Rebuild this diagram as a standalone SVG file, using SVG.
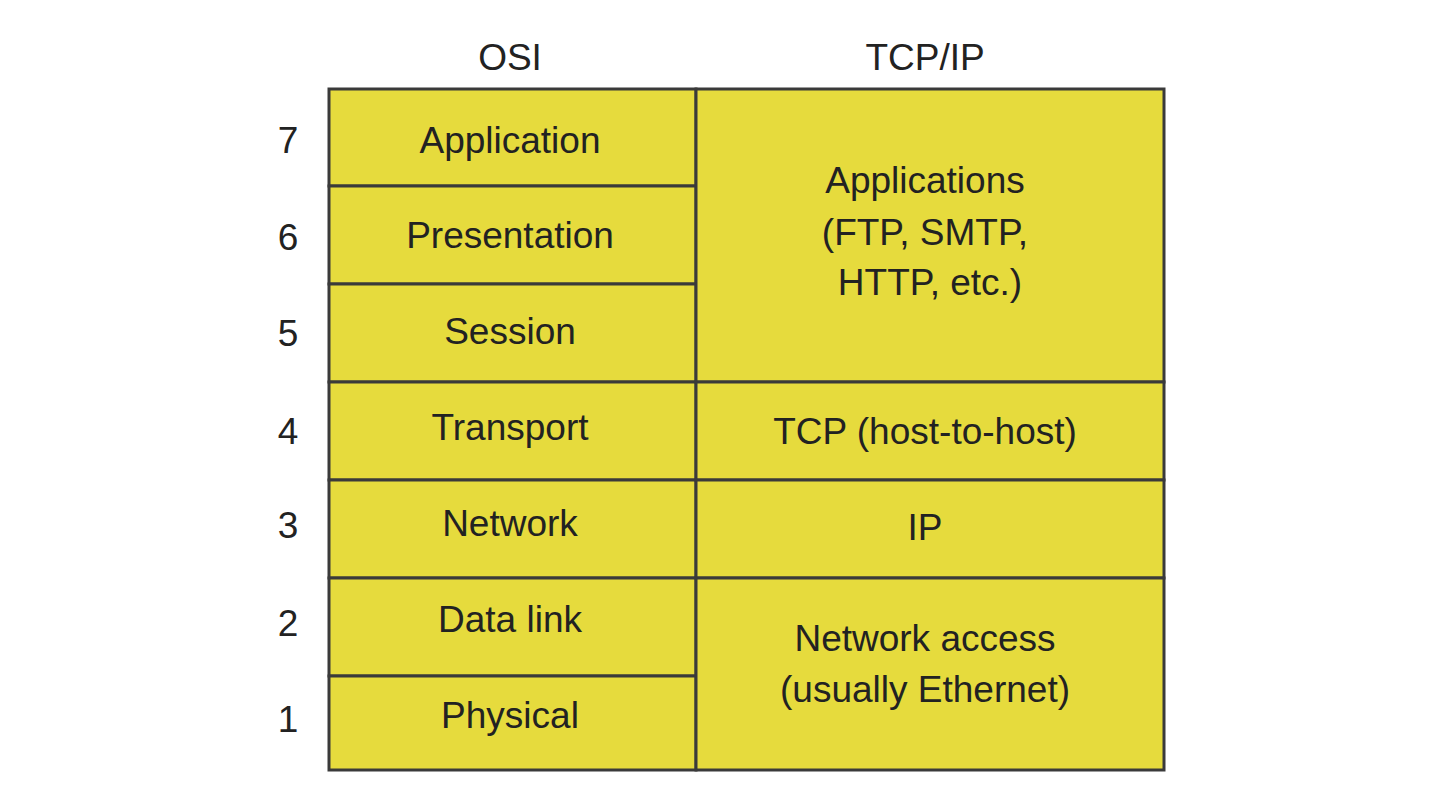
<svg xmlns="http://www.w3.org/2000/svg" width="1440" height="803" viewBox="0 0 1440 803">
<style>
.b{fill:#E6DB3D;stroke:#3a3a3a;stroke-width:3}
text{font-family:"Liberation Sans",Arial,sans-serif;font-size:37px;fill:#222;text-anchor:middle}
</style>
<rect width="1440" height="803" fill="#fff"/>
<g id="headers"><text x="510" y="70">OSI</text><text x="925" y="70">TCP/IP</text></g>
<g id="numbers">
<text x="288" y="153">7</text><text x="288" y="250">6</text><text x="288" y="346">5</text><text x="288" y="444">4</text><text x="288" y="538">3</text><text x="288" y="636">2</text><text x="288" y="732">1</text>
</g>
<g id="osi-7"><rect class="b" x="329" y="89" width="367" height="97"/><text x="510" y="153">Application</text></g>
<g id="osi-6"><rect class="b" x="329" y="186" width="367" height="98"/><text x="510" y="248">Presentation</text></g>
<g id="osi-5"><rect class="b" x="329" y="284" width="367" height="98"/><text x="510" y="344">Session</text></g>
<g id="osi-4"><rect class="b" x="329" y="382" width="367" height="98"/><text x="510" y="440">Transport</text></g>
<g id="osi-3"><rect class="b" x="329" y="480" width="367" height="98"/><text x="510" y="536">Network</text></g>
<g id="osi-2"><rect class="b" x="329" y="578" width="367" height="98"/><text x="510" y="632">Data link</text></g>
<g id="osi-1"><rect class="b" x="329" y="676" width="367" height="94"/><text x="510" y="728">Physical</text></g>
<g id="tcp-app"><rect class="b" x="696" y="89" width="468" height="293"/><text x="925" y="193">Applications</text><text x="925" y="245">(FTP, SMTP,</text><text x="930" y="295">HTTP, etc.)</text></g>
<g id="tcp-tcp"><rect class="b" x="696" y="382" width="468" height="98"/><text x="925" y="444">TCP (host-to-host)</text></g>
<g id="tcp-ip"><rect class="b" x="696" y="480" width="468" height="98"/><text x="925" y="540">IP</text></g>
<g id="tcp-net"><rect class="b" x="696" y="578" width="468" height="192"/><text x="925" y="651">Network access</text><text x="925" y="702">(usually Ethernet)</text></g>
<g id="connectors"></g>
</svg>
